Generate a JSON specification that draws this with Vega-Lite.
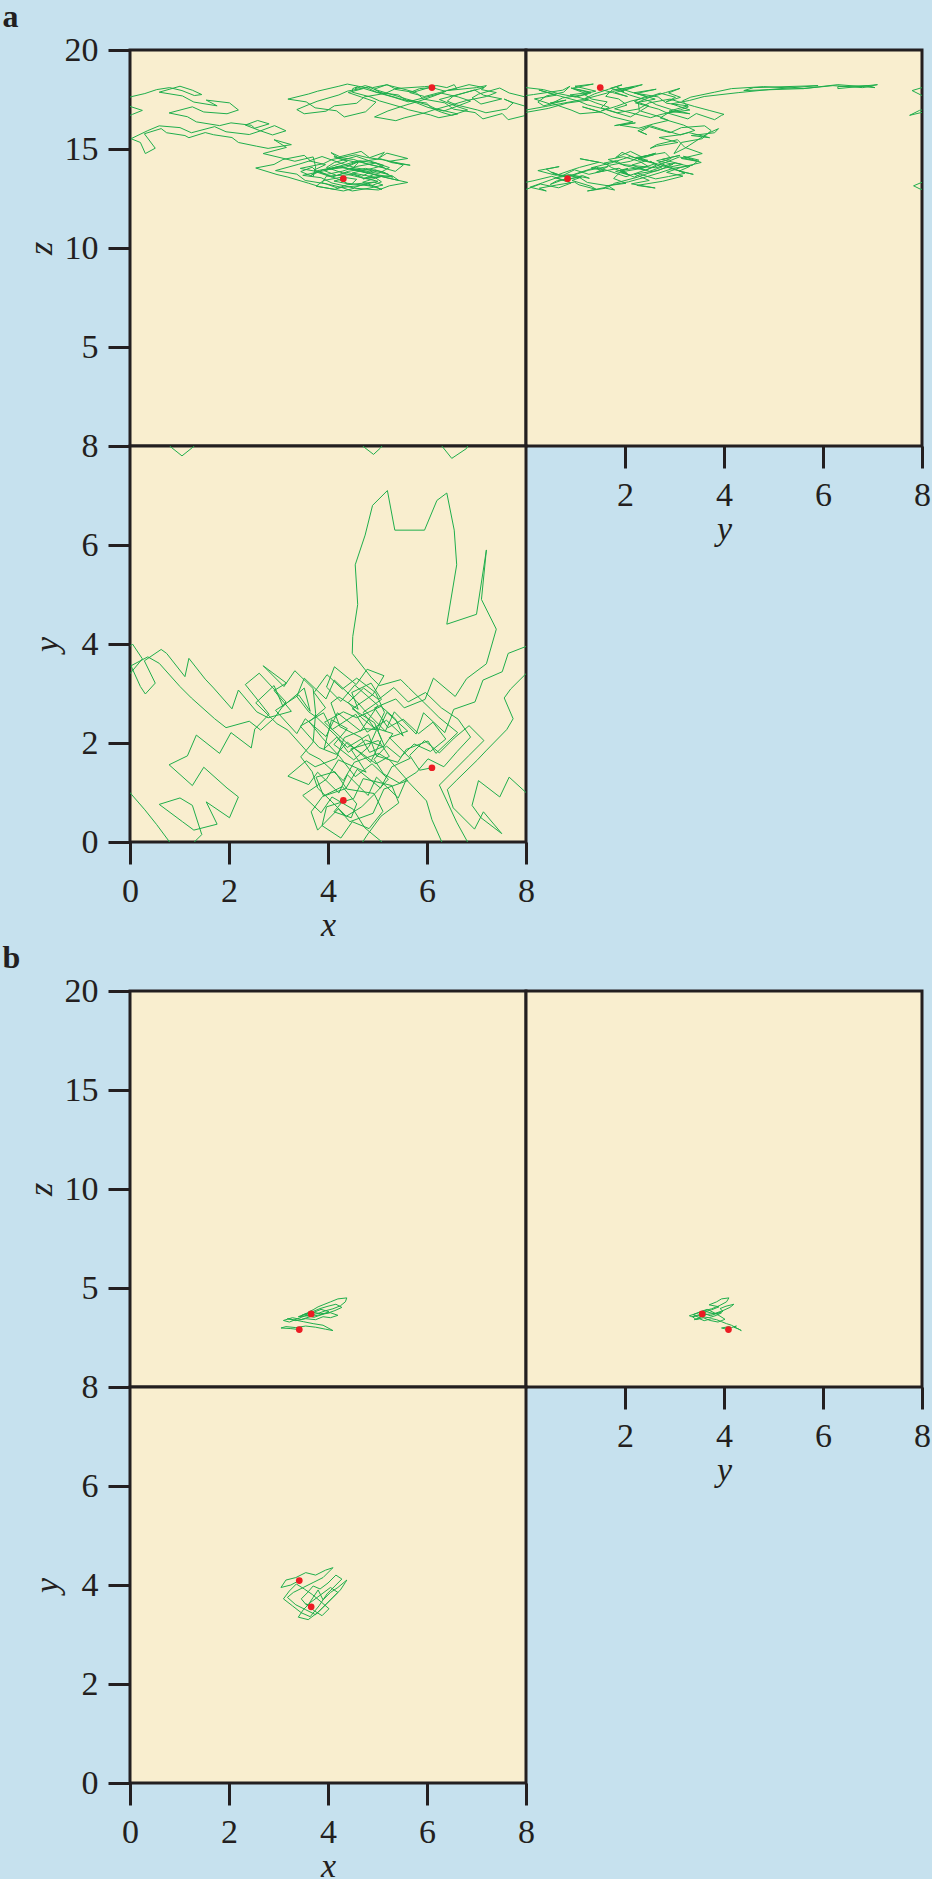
{
"$schema": "https://vega.github.io/schema/vega-lite/v6.json",
"background": "#c6e1ee",
"padding": {"left": 2, "top": 0, "right": 0, "bottom": 0},
"spacing": -3,
"config": {
  "view": {"fill": "#f9eecf", "stroke": "#231f20", "strokeWidth": 3},
  "axis": {"domain": false, "grid": false, "tickSize": 22, "tickWidth": 3, "tickColor": "#231f20", "labelFont": "Liberation Serif", "labelFontSize": 34, "labelColor": "#231f20", "labelFlush": false, "labelOverlap": false, "labelBound": false, "titleFont": "Liberation Serif", "titleFontSize": 34, "titleFontStyle": "italic", "titleFontWeight": "normal", "titleColor": "#231f20"},
  "axisY": {"labelPadding": 10},
  "axisX": {"labelPadding": 10, "titlePadding": 0},
  "line": {"color": "#1fae4c", "strokeWidth": 1},
  "circle": {"color": "#ec1c24", "size": 45, "opacity": 1},
  "title": {"font": "Liberation Serif", "fontSize": 32, "fontWeight": "bold", "color": "#231f20", "anchor": "start", "frame": "bounds"}
},
"datasets": {
  "wa": [
{"x":4.31,"y":0.84,"z":13.5,"s":0},{"x":4.12,"y":0.61,"z":13.38,"s":0},{"x":4.47,"y":0.49,"z":13.21,"s":0},{"x":4.58,"y":0.77,"z":13.47,"s":0},{"x":4.29,"y":1.12,"z":13.58,"s":0},{"x":3.91,"y":0.93,"z":13.41,"s":0},{"x":3.76,"y":1.31,"z":13.12,"s":0},{"x":4.14,"y":1.42,"z":12.96,"s":0},{"x":4.38,"y":1.07,"z":13.19,"s":0},{"x":4.93,"y":0.98,"z":13.33,"s":0},{"x":5.11,"y":0.62,"z":13.18,"s":0},{"x":4.83,"y":0.27,"z":13.02,"s":0},{"x":4.49,"y":0.41,"z":12.88,"s":0},{"x":4.26,"y":0.08,"z":13.07,"s":0},{"x":3.88,"y":0.33,"z":13.29,"s":0},{"x":3.97,"y":0.71,"z":13.63,"s":0},{"x":4.52,"y":0.88,"z":13.71,"s":0},{"x":4.71,"y":1.28,"z":13.52,"s":0},{"x":5.29,"y":1.14,"z":13.66,"s":0},{"x":5.43,"y":0.79,"z":13.41,"s":0},{"x":5.07,"y":0.52,"z":13.62,"s":0},{"x":4.79,"y":0.14,"z":13.39,"s":0},{"x":4.7,"y":0.0,"z":13.32,"s":0},
{"x":4.7,"y":8.0,"z":13.32,"s":1},{"x":4.92,"y":7.83,"z":13.14,"s":1},{"x":5.06,"y":7.96,"z":12.98,"s":1},{"x":5.09,"y":8.0,"z":12.96,"s":1},
{"x":5.09,"y":0.0,"z":12.96,"s":2},{"x":4.74,"y":0.29,"z":13.23,"s":2},{"x":4.51,"y":0.66,"z":13.04,"s":2},{"x":4.08,"y":0.91,"z":13.28,"s":2},{"x":3.86,"y":0.59,"z":13.55,"s":2},{"x":3.49,"y":0.94,"z":13.67,"s":2},{"x":3.97,"y":1.27,"z":13.93,"s":2},{"x":4.21,"y":1.66,"z":14.12,"s":2},{"x":4.77,"y":1.41,"z":13.81,"s":2},{"x":4.46,"y":1.88,"z":14.03,"s":2},{"x":5.02,"y":2.05,"z":13.76,"s":2},{"x":5.24,"y":1.73,"z":14.06,"s":2},{"x":4.97,"y":1.58,"z":14.29,"s":2},{"x":4.64,"y":1.82,"z":14.41,"s":2},{"x":4.41,"y":1.97,"z":14.18,"s":2},{"x":3.93,"y":2.42,"z":13.92,"s":2},{"x":4.31,"y":2.63,"z":14.19,"s":2},{"x":4.58,"y":2.51,"z":14.38,"s":2},{"x":5.07,"y":2.74,"z":14.08,"s":2},{"x":5.36,"y":2.49,"z":13.87,"s":2},{"x":5.52,"y":2.14,"z":14.19,"s":2},{"x":5.18,"y":2.46,"z":14.43,"s":2},{"x":4.79,"y":2.22,"z":14.57,"s":2},{"x":4.56,"y":2.58,"z":14.71,"s":2},{"x":4.08,"y":2.27,"z":14.47,"s":2},{"x":3.91,"y":2.61,"z":14.26,"s":2},{"x":3.44,"y":2.34,"z":14.02,"s":2},{"x":3.82,"y":1.91,"z":13.84,"s":2},{"x":4.17,"y":1.77,"z":13.51,"s":2},{"x":4.39,"y":2.02,"z":13.27,"s":2},{"x":4.86,"y":1.61,"z":13.13,"s":2},{"x":5.08,"y":2.07,"z":13.34,"s":2},{"x":4.94,"y":2.41,"z":13.58,"s":2},{"x":4.49,"y":2.69,"z":13.79,"s":2},{"x":4.91,"y":2.98,"z":14.03,"s":2},{"x":5.13,"y":3.36,"z":14.17,"s":2},{"x":4.79,"y":3.49,"z":14.44,"s":2},{"x":4.57,"y":3.18,"z":14.63,"s":2},{"x":4.13,"y":3.54,"z":14.32,"s":2},{"x":3.97,"y":3.13,"z":14.07,"s":2},{"x":4.26,"y":2.84,"z":13.82,"s":2},{"x":4.54,"y":3.17,"z":13.63,"s":2},{"x":5.01,"y":2.76,"z":13.37,"s":2},{"x":4.66,"y":2.24,"z":13.16,"s":2},{"x":4.19,"y":2.61,"z":13.03,"s":2},{"x":3.96,"y":2.13,"z":13.24,"s":2},{"x":3.54,"y":2.49,"z":13.41,"s":2},{"x":3.37,"y":2.19,"z":13.73,"s":2},{"x":2.94,"y":2.66,"z":13.91,"s":2},{"x":3.41,"y":2.97,"z":14.23,"s":2},{"x":3.64,"y":2.64,"z":14.41,"s":2},{"x":3.52,"y":3.11,"z":14.68,"s":2},{"x":3.09,"y":2.74,"z":14.47,"s":2},{"x":2.91,"y":3.16,"z":14.22,"s":2},{"x":2.54,"y":2.81,"z":14.04,"s":2},{"x":2.97,"y":2.39,"z":13.71,"s":2},{"x":3.19,"y":2.26,"z":13.58,"s":2},{"x":3.61,"y":1.79,"z":13.27,"s":2},{"x":3.84,"y":1.67,"z":13.09,"s":2},{"x":4.31,"y":1.24,"z":12.88,"s":2},{"x":4.53,"y":1.61,"z":13.02,"s":2},{"x":5.02,"y":1.79,"z":12.93,"s":2},{"x":5.24,"y":1.66,"z":13.14,"s":2},{"x":5.61,"y":1.24,"z":13.31,"s":2},{"x":5.13,"y":1.07,"z":13.58,"s":2},{"x":4.91,"y":0.58,"z":13.72,"s":2},{"x":4.44,"y":0.41,"z":13.98,"s":2},{"x":4.21,"y":0.67,"z":14.11,"s":2},{"x":3.79,"y":0.24,"z":13.91,"s":2},{"x":3.66,"y":0.61,"z":13.67,"s":2},{"x":3.89,"y":0.92,"z":13.94,"s":2},{"x":4.36,"y":1.08,"z":14.07,"s":2},{"x":4.59,"y":1.47,"z":14.33,"s":2},{"x":5.06,"y":1.09,"z":14.51,"s":2},{"x":5.29,"y":1.52,"z":14.31,"s":2},{"x":5.66,"y":1.69,"z":14.18,"s":2},{"x":5.24,"y":2.11,"z":14.38,"s":2},{"x":5.61,"y":2.24,"z":14.52,"s":2},{"x":5.19,"y":2.62,"z":14.79,"s":2},{"x":5.01,"y":2.24,"z":14.51,"s":2},{"x":5.14,"y":1.94,"z":14.83,"s":2},{"x":4.84,"y":1.81,"z":14.56,"s":2},{"x":4.67,"y":2.11,"z":14.88,"s":2},{"x":4.24,"y":2.33,"z":14.61,"s":2},{"x":4.06,"y":2.81,"z":14.82,"s":2},
{"x":4.22,"y":2.93,"z":14.52,"s":2},{"x":4.61,"y":2.68,"z":14.31,"s":2},{"x":4.48,"y":3.02,"z":13.98,"s":2},{"x":4.87,"y":3.21,"z":13.77,"s":2},{"x":5.08,"y":2.88,"z":13.61,"s":2},{"x":4.71,"y":2.62,"z":13.49,"s":2},{"x":4.93,"y":2.31,"z":13.72,"s":2},{"x":5.31,"y":2.19,"z":13.58,"s":2},{"x":5.12,"y":1.92,"z":13.84,"s":2},{"x":4.76,"y":2.06,"z":14.02,"s":2},{"x":4.41,"y":1.81,"z":13.87,"s":2},{"x":4.18,"y":2.12,"z":13.66,"s":2},{"x":3.92,"y":1.88,"z":13.91,"s":2},{"x":4.07,"y":2.47,"z":14.12,"s":2},{"x":4.39,"y":2.29,"z":14.38,"s":2},{"x":4.12,"y":1.97,"z":14.61,"s":2},{"x":4.52,"y":1.66,"z":14.47,"s":2},{"x":4.83,"y":1.93,"z":14.22,"s":2},{"x":5.14,"y":2.62,"z":14.05,"s":2},{"x":4.96,"y":3.02,"z":14.29,"s":2},{"x":4.58,"y":3.31,"z":14.12,"s":2},{"x":4.29,"y":3.09,"z":13.88,"s":2},{"x":3.98,"y":3.38,"z":13.72,"s":2},{"x":3.72,"y":3.02,"z":13.94,"s":2},{"x":3.95,"y":2.71,"z":14.21,"s":2},{"x":3.62,"y":2.43,"z":14.4,"s":2},{"x":3.88,"y":2.11,"z":14.62,"s":2},{"x":4.24,"y":1.72,"z":14.3,"s":2},{"x":4.55,"y":1.32,"z":14.05,"s":2},{"x":4.89,"y":1.58,"z":13.9,"s":2},{"x":5.22,"y":1.27,"z":13.72,"s":2},{"x":4.95,"y":0.98,"z":13.95,"s":2},{"x":4.68,"y":0.71,"z":13.62,"s":2},{"x":4.37,"y":0.52,"z":13.83,"s":2},{"x":4.08,"y":0.81,"z":13.58,"s":2},{"x":3.79,"y":1.09,"z":13.82,"s":2},{"x":3.68,"y":1.42,"z":14.08,"s":2},{"x":3.45,"y":1.72,"z":13.86,"s":2},{"x":3.7,"y":2.02,"z":13.6,"s":2},{"x":3.75,"y":2.6,"z":14.1,"s":2},
{"x":3.7,"y":3.1,"z":14.6,"s":2},{"x":3.33,"y":3.46,"z":14.38,"s":2},{"x":3.11,"y":3.14,"z":14.52,"s":2},{"x":2.69,"y":3.56,"z":14.77,"s":2},{"x":3.16,"y":3.21,"z":15.08,"s":2},{"x":2.91,"y":3.06,"z":15.47,"s":2},{"x":3.26,"y":2.64,"z":15.22,"s":2},{"x":2.79,"y":2.51,"z":15.03,"s":2},{"x":2.56,"y":2.63,"z":15.14,"s":2},{"x":2.19,"y":3.07,"z":15.33,"s":2},{"x":2.06,"y":2.69,"z":15.58,"s":2},{"x":1.69,"y":3.11,"z":15.72,"s":2},{"x":1.52,"y":3.29,"z":15.83,"s":2},{"x":1.19,"y":3.71,"z":15.57,"s":2},{"x":1.11,"y":3.34,"z":15.68,"s":2},{"x":0.74,"y":3.81,"z":15.82,"s":2},{"x":0.63,"y":3.89,"z":16.03,"s":2},{"x":0.29,"y":3.66,"z":15.77,"s":2},{"x":0.51,"y":3.21,"z":15.04,"s":2},{"x":0.31,"y":2.99,"z":14.77,"s":2},{"x":0.21,"y":3.14,"z":15.33,"s":2},{"x":0.02,"y":3.56,"z":15.52,"s":2},{"x":0.36,"y":3.74,"z":15.93,"s":2},{"x":0.59,"y":3.61,"z":16.17,"s":2},{"x":1.01,"y":3.14,"z":16.08,"s":2},{"x":1.24,"y":2.91,"z":15.82,"s":2},{"x":1.71,"y":2.49,"z":16.13,"s":2},{"x":1.94,"y":2.31,"z":15.87,"s":2},{"x":2.41,"y":2.44,"z":15.73,"s":2},{"x":2.64,"y":2.26,"z":15.92,"s":2},
{"x":2.92,"y":2.51,"z":16.18,"s":2},{"x":3.15,"y":2.83,"z":15.92,"s":2},{"x":2.88,"y":3.12,"z":15.71,"s":2},{"x":2.61,"y":3.41,"z":15.94,"s":2},{"x":2.33,"y":3.18,"z":16.21,"s":2},{"x":2.58,"y":2.87,"z":16.44,"s":2},{"x":2.81,"y":2.58,"z":16.27,"s":2},{"x":2.52,"y":2.28,"z":16.05,"s":2},
{"x":2.45,"y":1.9,"z":16.2,"s":2},{"x":2.04,"y":2.21,"z":16.32,"s":2},{"x":1.81,"y":1.79,"z":16.18,"s":2},{"x":1.34,"y":2.16,"z":16.37,"s":2},{"x":1.16,"y":1.74,"z":16.63,"s":2},{"x":0.79,"y":1.56,"z":16.82,"s":2},{"x":1.26,"y":1.14,"z":17.13,"s":2},{"x":1.49,"y":1.51,"z":16.87,"s":2},{"x":1.96,"y":1.09,"z":16.78,"s":2},{"x":2.19,"y":0.91,"z":16.97,"s":2},{"x":2.01,"y":0.49,"z":17.33,"s":2},{"x":1.54,"y":0.81,"z":17.47,"s":2},{"x":1.76,"y":0.36,"z":17.18,"s":2},{"x":1.29,"y":0.24,"z":17.37,"s":2},{"x":1.06,"y":0.41,"z":17.68,"s":2},{"x":0.59,"y":0.76,"z":17.87,"s":2},{"x":1.01,"y":0.89,"z":18.17,"s":2},{"x":1.26,"y":0.74,"z":17.97,"s":2},{"x":1.45,"y":0.15,"z":17.75,"s":2},{"x":1.3,"y":0.0,"z":17.7,"s":2},
{"x":1.3,"y":8.0,"z":17.7,"s":3},{"x":1.05,"y":7.8,"z":17.95,"s":3},{"x":0.8,"y":8.0,"z":18.1,"s":3},
{"x":0.8,"y":0.0,"z":18.1,"s":4},{"x":0.54,"y":0.35,"z":18.0,"s":4},{"x":0.3,"y":0.65,"z":17.8,"s":4},{"x":0.04,"y":0.95,"z":17.65,"s":4},{"x":0.0,"y":1.0,"z":17.62,"s":4},
{"x":8.0,"y":1.0,"z":17.62,"s":5},{"x":7.66,"y":1.31,"z":17.83,"s":5},{"x":7.47,"y":0.91,"z":18.08,"s":5},{"x":7.04,"y":1.24,"z":17.77,"s":5},{"x":6.91,"y":0.74,"z":17.58,"s":5},{"x":7.09,"y":0.49,"z":17.27,"s":5},{"x":7.51,"y":0.17,"z":17.53,"s":5},{"x":7.14,"y":0.61,"z":17.72,"s":5},{"x":6.96,"y":0.26,"z":17.98,"s":5},{"x":6.53,"y":0.69,"z":17.67,"s":5},{"x":6.41,"y":1.06,"z":17.42,"s":5},{"x":6.59,"y":1.24,"z":17.23,"s":5},{"x":7.02,"y":1.66,"z":16.97,"s":5},{"x":7.19,"y":1.84,"z":16.83,"s":5},{"x":7.61,"y":2.27,"z":17.02,"s":5},{"x":7.74,"y":2.49,"z":17.33,"s":5},{"x":7.56,"y":2.91,"z":17.52,"s":5},{"x":7.69,"y":3.09,"z":17.38,"s":5},{"x":8.0,"y":3.4,"z":17.15,"s":5},
{"x":0.0,"y":3.4,"z":17.15,"s":6},{"x":0.25,"y":3.7,"z":16.95,"s":6},{"x":0.05,"y":4.0,"z":16.75,"s":6},{"x":0.0,"y":3.95,"z":16.7,"s":6},
{"x":8.0,"y":3.95,"z":16.7,"s":7},{"x":7.64,"y":3.81,"z":16.48,"s":7},{"x":7.52,"y":3.44,"z":16.79,"s":7},{"x":7.13,"y":3.27,"z":16.52,"s":7},{"x":6.97,"y":2.83,"z":16.84,"s":7},{"x":6.54,"y":2.68,"z":17.01,"s":7},{"x":6.36,"y":2.21,"z":17.33,"s":7},{"x":5.93,"y":2.61,"z":17.52,"s":7},{"x":5.78,"y":2.18,"z":17.84,"s":7},{"x":5.34,"y":2.63,"z":18.02,"s":7},{"x":5.16,"y":2.24,"z":17.81,"s":7},{"x":4.73,"y":2.67,"z":17.63,"s":7},{"x":4.58,"y":2.84,"z":17.31,"s":7},{"x":4.13,"y":3.27,"z":17.18,"s":7},{"x":3.96,"y":2.89,"z":16.91,"s":7},{"x":3.52,"y":3.31,"z":16.78,"s":7},{"x":3.37,"y":2.94,"z":16.99,"s":7},{"x":3.61,"y":2.63,"z":17.24,"s":7},{"x":3.78,"y":2.51,"z":17.41,"s":7},{"x":4.22,"y":2.09,"z":17.73,"s":7},{"x":4.39,"y":1.91,"z":17.92,"s":7},{"x":4.82,"y":2.17,"z":18.13,"s":7},{"x":4.98,"y":1.74,"z":17.98,"s":7},{"x":5.41,"y":1.61,"z":17.66,"s":7},{"x":5.58,"y":1.87,"z":17.53,"s":7},{"x":6.02,"y":2.04,"z":17.22,"s":7},{"x":6.18,"y":1.79,"z":17.03,"s":7},{"x":6.62,"y":2.21,"z":16.77,"s":7},{"x":6.24,"y":2.52,"z":16.58,"s":7},{"x":6.07,"y":2.69,"z":16.72,"s":7},{"x":5.63,"y":3.12,"z":16.98,"s":7},{"x":5.47,"y":3.28,"z":17.12,"s":7},{"x":5.04,"y":3.16,"z":17.43,"s":7},{"x":4.87,"y":3.33,"z":17.62,"s":7},{"x":4.49,"y":3.81,"z":17.87,"s":7},{"x":4.5,"y":4.15,"z":18.05,"s":7},{"x":4.6,"y":4.8,"z":18.15,"s":7},{"x":4.55,"y":5.6,"z":18.05,"s":7},{"x":4.75,"y":6.2,"z":18.2,"s":7},{"x":4.9,"y":6.8,"z":18.1,"s":7},{"x":5.2,"y":7.1,"z":18.25,"s":7},{"x":5.35,"y":6.3,"z":18.05,"s":7},{"x":5.95,"y":6.3,"z":18.15,"s":7},{"x":6.2,"y":6.9,"z":18.2,"s":7},{"x":6.4,"y":7.05,"z":18.1,"s":7},{"x":6.55,"y":6.3,"z":18.25,"s":7},{"x":6.6,"y":5.6,"z":18.05,"s":7},{"x":6.4,"y":4.4,"z":17.95,"s":7},{"x":7.0,"y":4.6,"z":18.1,"s":7},{"x":7.2,"y":5.9,"z":18.2,"s":7},{"x":7.1,"y":4.9,"z":18.0,"s":7},{"x":7.4,"y":4.3,"z":17.85,"s":7},{"x":7.2,"y":3.6,"z":17.65,"s":7},{"x":6.8,"y":3.3,"z":17.45,"s":7},{"x":6.57,"y":2.94,"z":17.28,"s":7},{"x":6.13,"y":3.31,"z":16.97,"s":7},{"x":5.96,"y":2.88,"z":16.83,"s":7},{"x":5.54,"y":2.71,"z":16.57,"s":7},{"x":5.37,"y":2.89,"z":16.43,"s":7},{"x":4.94,"y":2.71,"z":16.62,"s":7},
{"x":5.21,"y":2.31,"z":16.92,"s":7},{"x":5.52,"y":2.48,"z":17.18,"s":7},{"x":5.83,"y":2.19,"z":17.41,"s":7},{"x":6.12,"y":2.42,"z":17.66,"s":7},{"x":6.38,"y":2.08,"z":17.91,"s":7},{"x":6.07,"y":1.83,"z":18.12,"s":7},{"x":5.74,"y":1.98,"z":17.88,"s":7},{"x":5.46,"y":1.71,"z":18.07,"s":7},{"x":5.18,"y":1.94,"z":18.24,"s":7},{"x":4.93,"y":1.67,"z":18.02,"s":7},{"x":5.12,"y":1.38,"z":17.78,"s":7},{"x":5.44,"y":1.19,"z":17.55,"s":7},{"x":5.79,"y":1.41,"z":17.33,"s":7},{"x":6.02,"y":1.68,"z":17.1,"s":7},{"x":6.34,"y":1.52,"z":16.92,"s":7},{"x":6.61,"y":1.83,"z":17.16,"s":7},{"x":6.88,"y":2.12,"z":17.42,"s":7},{"x":6.63,"y":2.48,"z":17.63,"s":7},{"x":6.29,"y":2.71,"z":17.82,"s":7},{"x":5.97,"y":3.02,"z":17.61,"s":7},{"x":5.62,"y":2.83,"z":17.38,"s":7},{"x":5.33,"y":3.12,"z":17.61,"s":7},{"x":5.02,"y":2.88,"z":17.83,"s":7},{"x":4.72,"y":3.11,"z":18.06,"s":7},{"x":4.41,"y":2.82,"z":17.85,"s":7},{"x":4.68,"y":2.51,"z":17.62,"s":7},{"x":4.97,"y":2.27,"z":17.37,"s":7},
{"x":4.76,"y":2.29,"z":16.88,"s":7},{"x":4.33,"y":2.11,"z":16.62,"s":7},{"x":4.17,"y":1.69,"z":16.93,"s":7},{"x":3.74,"y":1.52,"z":17.08,"s":7},{"x":3.56,"y":1.64,"z":17.38,"s":7},{"x":3.19,"y":1.33,"z":17.52,"s":7},{"x":3.61,"y":1.16,"z":17.78,"s":7},{"x":3.79,"y":1.41,"z":17.92,"s":7},{"x":4.22,"y":0.99,"z":18.17,"s":7},{"x":4.39,"y":1.36,"z":18.28,"s":7},{"x":4.81,"y":0.94,"z":18.07,"s":7},{"x":4.98,"y":1.31,"z":17.87,"s":7},{"x":5.42,"y":0.89,"z":17.73,"s":7},{"x":5.58,"y":1.26,"z":17.47,"s":7},{"x":5.99,"y":0.83,"z":17.32,"s":7},{"x":6.1,"y":0.45,"z":17.05,"s":7},{"x":6.3,"y":0.0,"z":16.85,"s":7},
{"x":6.3,"y":8.0,"z":16.85,"s":8},{"x":6.5,"y":7.75,"z":16.7,"s":8},{"x":6.8,"y":7.95,"z":16.95,"s":8},{"x":6.82,"y":8.0,"z":16.97,"s":8},
{"x":6.82,"y":0.0,"z":16.97,"s":9},{"x":6.6,"y":0.4,"z":17.15,"s":9},{"x":6.25,"y":1.15,"z":17.5,"s":9},{"x":6.55,"y":1.45,"z":17.7,"s":9},{"x":6.85,"y":1.75,"z":17.9,"s":9},{"x":7.15,"y":2.05,"z":18.1,"s":9},{"x":6.85,"y":2.35,"z":18.25,"s":9},{"x":6.55,"y":2.1,"z":18.05,"s":9},{"x":6.25,"y":1.8,"z":17.85,"s":9},{"x":5.95,"y":2.05,"z":17.65,"s":9},{"x":5.65,"y":1.75,"z":17.85,"s":9},{"x":5.85,"y":1.45,"z":18.05,"s":9},{"x":6.1,"y":1.5,"z":18.1,"s":9}
  ],
  "ea": [{"x":4.31,"y":0.84,"z":13.5},{"x":6.1,"y":1.5,"z":18.1}],
  "wb": [
{"x":3.42,"y":4.09,"z":2.9,"s":0},{"x":3.25,"y":4.0,"z":2.95,"s":0},{"x":3.05,"y":3.95,"z":2.98,"s":0},{"x":3.15,"y":4.1,"z":3.05,"s":0},{"x":3.35,"y":4.15,"z":3.0,"s":0},{"x":3.55,"y":4.25,"z":3.08,"s":0},{"x":3.75,"y":4.2,"z":3.02,"s":0},{"x":3.95,"y":4.3,"z":2.92,"s":0},{"x":4.1,"y":4.35,"z":2.85,"s":0},{"x":3.9,"y":4.15,"z":3.12,"s":0},{"x":3.7,"y":4.05,"z":3.2,"s":0},{"x":3.5,"y":3.95,"z":3.3,"s":0},{"x":3.3,"y":3.85,"z":3.4,"s":0},{"x":3.18,"y":3.75,"z":3.45,"s":0},{"x":3.35,"y":3.6,"z":3.35,"s":0},{"x":3.55,"y":3.5,"z":3.45,"s":0},{"x":3.75,"y":3.4,"z":3.4,"s":0},{"x":3.9,"y":3.55,"z":3.55,"s":0},{"x":4.05,"y":3.7,"z":3.5,"s":0},{"x":4.2,"y":3.85,"z":3.62,"s":0},{"x":4.05,"y":3.95,"z":3.75,"s":0},{"x":3.85,"y":3.8,"z":3.7,"s":0},{"x":3.65,"y":3.65,"z":3.8,"s":0},{"x":3.5,"y":3.5,"z":3.65,"s":0},{"x":3.4,"y":3.35,"z":3.55,"s":0},{"x":3.6,"y":3.3,"z":3.6,"s":0},{"x":3.8,"y":3.45,"z":3.72,"s":0},{"x":3.95,"y":3.6,"z":3.85,"s":0},{"x":4.1,"y":3.75,"z":3.95,"s":0},{"x":4.25,"y":3.9,"z":4.1,"s":0},{"x":4.35,"y":4.05,"z":4.3,"s":0},{"x":4.38,"y":4.1,"z":4.5,"s":0},{"x":4.2,"y":3.95,"z":4.45,"s":0},{"x":4.05,"y":3.85,"z":4.3,"s":0},{"x":3.9,"y":3.7,"z":4.15,"s":0},{"x":3.8,"y":3.9,"z":4.05,"s":0},{"x":3.7,"y":3.75,"z":3.9,"s":0},{"x":3.6,"y":3.6,"z":3.78,"s":0},
{"x":3.55,"y":3.62,"z":3.62,"s":0},{"x":3.72,"y":3.48,"z":3.52,"s":0},{"x":3.88,"y":3.38,"z":3.66,"s":0},{"x":4.02,"y":3.52,"z":3.8,"s":0},{"x":3.86,"y":3.66,"z":3.92,"s":0},{"x":3.68,"y":3.81,"z":3.74,"s":0},{"x":3.52,"y":3.92,"z":3.58,"s":0},{"x":3.36,"y":4.02,"z":3.42,"s":0},{"x":3.22,"y":3.88,"z":3.28,"s":0},{"x":3.1,"y":3.72,"z":3.36,"s":0},{"x":3.28,"y":3.58,"z":3.5,"s":0},{"x":3.46,"y":3.44,"z":3.41,"s":0},{"x":3.64,"y":3.36,"z":3.55,"s":0},{"x":3.82,"y":3.58,"z":3.64,"s":0},{"x":3.98,"y":3.82,"z":3.72,"s":0},{"x":4.14,"y":3.98,"z":3.86,"s":0},{"x":4.28,"y":4.12,"z":4.02,"s":0},{"x":4.16,"y":4.2,"z":4.18,"s":0},{"x":4.0,"y":4.04,"z":4.08,"s":0},{"x":3.84,"y":3.92,"z":3.96,"s":0},{"x":3.7,"y":3.98,"z":3.82,"s":0},{"x":3.58,"y":3.84,"z":3.7,"s":0},{"x":3.46,"y":3.72,"z":3.6,"s":0},{"x":3.56,"y":3.6,"z":3.72,"s":0},
{"x":3.66,"y":3.56,"z":3.69,"s":0}
  ],
  "eb": [{"x":3.42,"y":4.09,"z":2.9},{"x":3.66,"y":3.56,"z":3.69}]
},
"vconcat": [
 {
  "title": {"text": "a", "dx": -20, "offset": -2},
  "columns": 2, "spacing": 0, "bounds": "flush",
  "concat": [
   {"width": 396, "height": 396,
    "encoding": {
     "x": {"field": "x", "type": "quantitative", "scale": {"domain": [0, 8], "nice": false, "zero": false}, "axis": null},
     "y": {"field": "z", "type": "quantitative", "scale": {"domain": [0, 20], "nice": false, "zero": false}, "axis": {"values": [5, 10, 15, 20], "title": "z", "titlePadding": 6}}
    },
    "layer": [
     {"data": {"name": "wa"}, "mark": {"type": "line", "clip": true}, "encoding": {"detail": {"field": "s", "type": "nominal"}, "order": {"value": null}}},
     {"data": {"name": "ea"}, "mark": {"type": "circle", "clip": true}}
    ]},
   {"width": 396, "height": 396,
    "encoding": {
     "x": {"field": "y", "type": "quantitative", "scale": {"domain": [0, 8], "nice": false, "zero": false}, "axis": {"values": [2, 4, 6, 8], "title": "y"}},
     "y": {"field": "z", "type": "quantitative", "scale": {"domain": [0, 20], "nice": false, "zero": false}, "axis": null}
    },
    "layer": [
     {"data": {"name": "wa"}, "mark": {"type": "line", "clip": true}, "encoding": {"detail": {"field": "s", "type": "nominal"}, "order": {"value": null}}},
     {"data": {"name": "ea"}, "mark": {"type": "circle", "clip": true}}
    ]},
   {"width": 396, "height": 396,
    "encoding": {
     "x": {"field": "x", "type": "quantitative", "scale": {"domain": [0, 8], "nice": false, "zero": false}, "axis": {"values": [0, 2, 4, 6, 8], "title": "x"}},
     "y": {"field": "y", "type": "quantitative", "scale": {"domain": [0, 8], "nice": false, "zero": false}, "axis": {"values": [0, 2, 4, 6, 8], "title": "y", "titlePadding": 17}}
    },
    "layer": [
     {"data": {"name": "wa"}, "mark": {"type": "line", "clip": true}, "encoding": {"detail": {"field": "s", "type": "nominal"}, "order": {"value": null}}},
     {"data": {"name": "ea"}, "mark": {"type": "circle", "clip": true}}
    ]}
  ]
 },
 {
  "title": {"text": "b", "dx": -20, "offset": -2},
  "columns": 2, "spacing": 0, "bounds": "flush",
  "concat": [
   {"width": 396, "height": 396,
    "encoding": {
     "x": {"field": "x", "type": "quantitative", "scale": {"domain": [0, 8], "nice": false, "zero": false}, "axis": null},
     "y": {"field": "z", "type": "quantitative", "scale": {"domain": [0, 20], "nice": false, "zero": false}, "axis": {"values": [5, 10, 15, 20], "title": "z", "titlePadding": 6}}
    },
    "layer": [
     {"data": {"name": "wb"}, "mark": {"type": "line", "clip": true}, "encoding": {"detail": {"field": "s", "type": "nominal"}, "order": {"value": null}}},
     {"data": {"name": "eb"}, "mark": {"type": "circle", "clip": true}}
    ]},
   {"width": 396, "height": 396,
    "encoding": {
     "x": {"field": "y", "type": "quantitative", "scale": {"domain": [0, 8], "nice": false, "zero": false}, "axis": {"values": [2, 4, 6, 8], "title": "y"}},
     "y": {"field": "z", "type": "quantitative", "scale": {"domain": [0, 20], "nice": false, "zero": false}, "axis": null}
    },
    "layer": [
     {"data": {"name": "wb"}, "mark": {"type": "line", "clip": true}, "encoding": {"detail": {"field": "s", "type": "nominal"}, "order": {"value": null}}},
     {"data": {"name": "eb"}, "mark": {"type": "circle", "clip": true}}
    ]},
   {"width": 396, "height": 396,
    "encoding": {
     "x": {"field": "x", "type": "quantitative", "scale": {"domain": [0, 8], "nice": false, "zero": false}, "axis": {"values": [0, 2, 4, 6, 8], "title": "x"}},
     "y": {"field": "y", "type": "quantitative", "scale": {"domain": [0, 8], "nice": false, "zero": false}, "axis": {"values": [0, 2, 4, 6, 8], "title": "y", "titlePadding": 17}}
    },
    "layer": [
     {"data": {"name": "wb"}, "mark": {"type": "line", "clip": true}, "encoding": {"detail": {"field": "s", "type": "nominal"}, "order": {"value": null}}},
     {"data": {"name": "eb"}, "mark": {"type": "circle", "clip": true}}
    ]}
  ]
 }
]
}
